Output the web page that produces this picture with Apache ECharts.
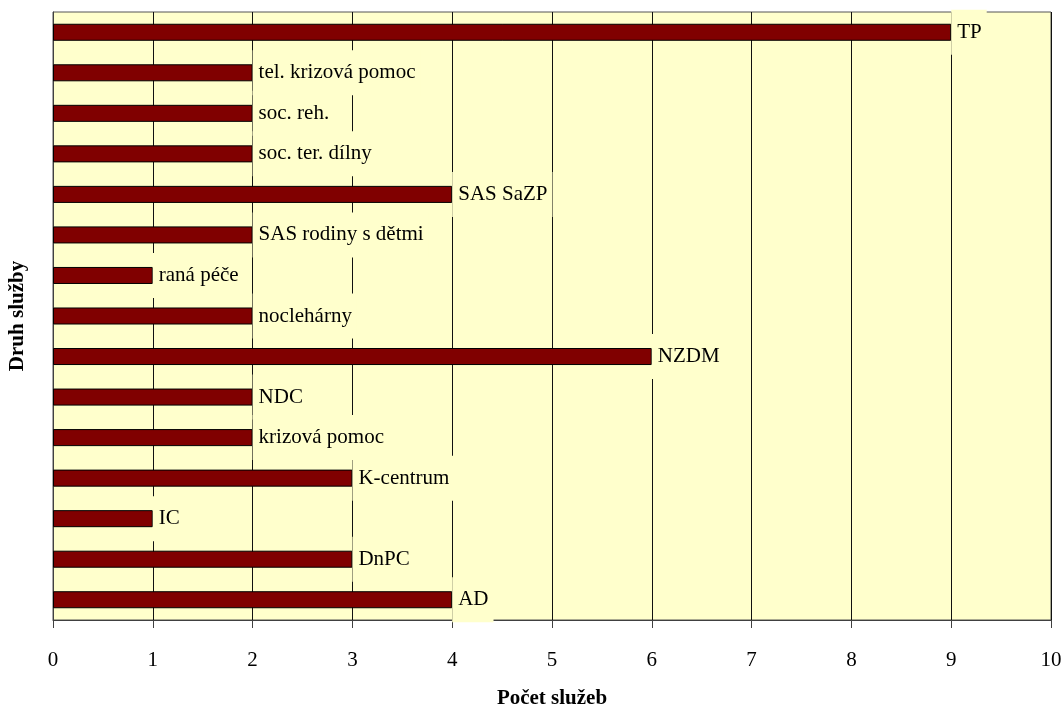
<!DOCTYPE html>
<html>
<head>
<meta charset="utf-8">
<script src="https://cdn.jsdelivr.net/npm/echarts@6/dist/echarts.min.js"></script>
<style>
  html, body { margin: 0; padding: 0; background: #ffffff; }
  #chart { width: 1064px; height: 709px; }
</style>
</head>
<body>
<div id="chart"></div>
<script>
// Druh služby (bottom to top)
const categories = [
  'AD', 'DnPC', 'IC', 'K-centrum', 'krizová pomoc', 'NDC', 'NZDM',
  'noclehárny', 'raná péče', 'SAS rodiny s dětmi', 'SAS SaZP',
  'soc. ter. dílny', 'soc. reh.', 'tel. krizová pomoc', 'TP'
];
// Počet služeb
const counts = [4, 3, 1, 3, 2, 2, 6, 2, 1, 2, 4, 2, 2, 2, 9];
const xTicks = [0, 1, 2, 3, 4, 5, 6, 7, 8, 9, 10];

const serif = "'Liberation Serif', 'Times New Roman', serif";

const chart = echarts.init(document.getElementById('chart'), null, { renderer: 'canvas' });

chart.setOption({
  backgroundColor: '#ffffff',
  animation: false,
  textStyle: { fontFamily: serif },
  grid: {
    left: 53, right: 13, top: 12, bottom: 89,
    containLabel: false,
    outerBoundsMode: 'none',
    show: true,
    backgroundColor: '#FFFFCC',
    borderColor: '#555555',
    borderWidth: 1
  },
  xAxis: {
    type: 'value',
    min: xTicks[0],
    max: xTicks[xTicks.length - 1],
    interval: 1,
    name: 'Počet služeb',
    nameLocation: 'middle',
    nameGap: 68,
    nameTextStyle: { fontFamily: serif, fontSize: 21, fontWeight: 'bold', color: '#000' },
    axisLine: { show: true, lineStyle: { color: '#404040', width: 1 } },
    axisTick: { show: true, length: 8, lineStyle: { color: '#404040' } },
    axisLabel: { margin: 30, fontFamily: serif, fontSize: 21, color: '#000' },
    splitLine: { show: true, lineStyle: { color: '#111', width: 1 } }
  },
  yAxis: {
    type: 'category',
    data: categories,
    name: 'Druh služby',
    nameLocation: 'middle',
    nameGap: 25,
    nameRotate: 90,
    nameTextStyle: { fontFamily: serif, fontSize: 21, fontWeight: 'bold', color: '#000' },
    axisLine: { show: true, lineStyle: { color: '#404040' } },
    axisTick: { show: false },
    axisLabel: { show: false },
    splitLine: { show: false }
  },
  series: [{
    type: 'bar',
    data: counts,
    barWidth: '42%',
    itemStyle: { color: '#800000', borderColor: '#000', borderWidth: 1 },
    label: {
      show: true,
      position: 'right',
      distance: 0,
      formatter: (p) => categories[p.dataIndex],
      fontFamily: serif,
      fontSize: 21,
      color: '#000',
      backgroundColor: '#FFFFCC',
      padding: [12, 5, 12, 6]
    }
  }]
});
</script>
</body>
</html>
